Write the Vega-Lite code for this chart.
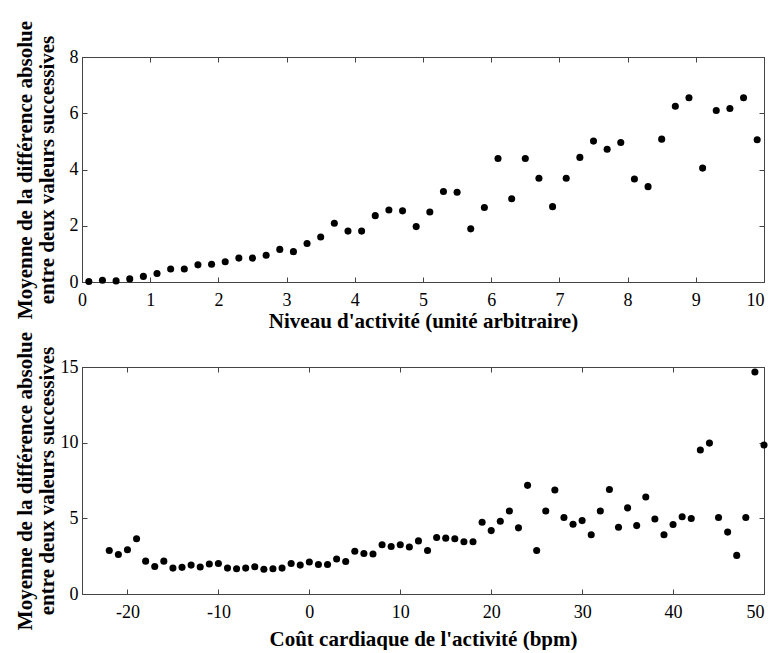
{
  "$schema": "https://vega.github.io/schema/vega-lite/v6.json",
  "padding": {"left": 13, "top": 19, "right": 0, "bottom": 0},
  "bounds": "flush",
  "spacing": 85,
  "config": {
    "font": "'Liberation Serif', 'Times New Roman', 'DejaVu Serif', serif",
    "view": {"stroke": "#444", "strokeWidth": 1},
    "axis": {
      "labelFont": "'Liberation Serif', 'Times New Roman', 'DejaVu Serif', serif",
      "titleFont": "'Liberation Serif', 'Times New Roman', 'DejaVu Serif', serif",
      "labelFontSize": 18,
      "titleFontSize": 21,
      "titleFontWeight": "bold",
      "labelColor": "black",
      "titleColor": "black",
      "domainColor": "#444",
      "tickColor": "#444",
      "grid": false,
      "tickSize": -5,
      "labelFlush": false
    }
  },
  "datasets": {
    "activite": [
      {"x": 0.1, "y": 0.02}, {"x": 0.3, "y": 0.06}, {"x": 0.5, "y": 0.04}, {"x": 0.7, "y": 0.11},
      {"x": 0.9, "y": 0.2}, {"x": 1.1, "y": 0.3}, {"x": 1.3, "y": 0.46}, {"x": 1.5, "y": 0.46},
      {"x": 1.7, "y": 0.61}, {"x": 1.9, "y": 0.63}, {"x": 2.1, "y": 0.72}, {"x": 2.3, "y": 0.85},
      {"x": 2.5, "y": 0.85}, {"x": 2.7, "y": 0.95}, {"x": 2.9, "y": 1.16}, {"x": 3.1, "y": 1.08},
      {"x": 3.3, "y": 1.37}, {"x": 3.5, "y": 1.6}, {"x": 3.7, "y": 2.09}, {"x": 3.9, "y": 1.81},
      {"x": 4.1, "y": 1.81}, {"x": 4.3, "y": 2.36}, {"x": 4.5, "y": 2.56}, {"x": 4.7, "y": 2.53},
      {"x": 4.9, "y": 1.97}, {"x": 5.1, "y": 2.49}, {"x": 5.3, "y": 3.22}, {"x": 5.5, "y": 3.19},
      {"x": 5.7, "y": 1.89}, {"x": 5.9, "y": 2.65}, {"x": 6.1, "y": 4.39}, {"x": 6.3, "y": 2.96},
      {"x": 6.5, "y": 4.39}, {"x": 6.7, "y": 3.69}, {"x": 6.9, "y": 2.68}, {"x": 7.1, "y": 3.69},
      {"x": 7.3, "y": 4.43}, {"x": 7.5, "y": 5.01}, {"x": 7.7, "y": 4.72}, {"x": 7.9, "y": 4.96},
      {"x": 8.1, "y": 3.66}, {"x": 8.3, "y": 3.39}, {"x": 8.5, "y": 5.08}, {"x": 8.7, "y": 6.25},
      {"x": 8.9, "y": 6.55}, {"x": 9.1, "y": 4.05}, {"x": 9.3, "y": 6.1}, {"x": 9.5, "y": 6.17},
      {"x": 9.7, "y": 6.55}, {"x": 9.9, "y": 5.06}
    ],
    "cout": [
      {"x": -22, "y": 2.88}, {"x": -21, "y": 2.61}, {"x": -20, "y": 2.92}, {"x": -19, "y": 3.65},
      {"x": -18, "y": 2.17}, {"x": -17, "y": 1.82}, {"x": -16, "y": 2.17}, {"x": -15, "y": 1.71},
      {"x": -14, "y": 1.76}, {"x": -13, "y": 1.91}, {"x": -12, "y": 1.78}, {"x": -11, "y": 1.98},
      {"x": -10, "y": 2.02}, {"x": -9, "y": 1.71}, {"x": -8, "y": 1.67}, {"x": -7, "y": 1.71},
      {"x": -6, "y": 1.8}, {"x": -5, "y": 1.63}, {"x": -4, "y": 1.67}, {"x": -3, "y": 1.71},
      {"x": -2, "y": 2.02}, {"x": -1, "y": 1.91}, {"x": 0, "y": 2.11}, {"x": 1, "y": 1.95},
      {"x": 2, "y": 1.95}, {"x": 3, "y": 2.31}, {"x": 4, "y": 2.15}, {"x": 5, "y": 2.83},
      {"x": 6, "y": 2.68}, {"x": 7, "y": 2.64}, {"x": 8, "y": 3.25}, {"x": 9, "y": 3.14},
      {"x": 10, "y": 3.25}, {"x": 11, "y": 3.1}, {"x": 12, "y": 3.51}, {"x": 13, "y": 2.88},
      {"x": 14, "y": 3.73}, {"x": 15, "y": 3.69}, {"x": 16, "y": 3.65}, {"x": 17, "y": 3.45},
      {"x": 18, "y": 3.45}, {"x": 19, "y": 4.74}, {"x": 20, "y": 4.19}, {"x": 21, "y": 4.81},
      {"x": 22, "y": 5.49}, {"x": 23, "y": 4.37}, {"x": 24, "y": 7.18}, {"x": 25, "y": 2.88},
      {"x": 26, "y": 5.49}, {"x": 27, "y": 6.87}, {"x": 28, "y": 5.05}, {"x": 29, "y": 4.61},
      {"x": 30, "y": 4.85}, {"x": 31, "y": 3.91}, {"x": 32, "y": 5.49}, {"x": 33, "y": 6.9},
      {"x": 34, "y": 4.41}, {"x": 35, "y": 5.69}, {"x": 36, "y": 4.52}, {"x": 37, "y": 6.41},
      {"x": 38, "y": 4.96}, {"x": 39, "y": 3.91}, {"x": 40, "y": 4.59}, {"x": 41, "y": 5.1},
      {"x": 42, "y": 4.99}, {"x": 43, "y": 9.51}, {"x": 44, "y": 9.97}, {"x": 45, "y": 5.05},
      {"x": 46, "y": 4.09}, {"x": 47, "y": 2.55}, {"x": 48, "y": 5.05}, {"x": 49, "y": 14.67},
      {"x": 50, "y": 9.84}
    ]
  },
  "vconcat": [
    {
      "width": 682,
      "height": 225,
      "data": {"name": "activite"},
      "layer": [
        {
          "mark": {"type": "point", "filled": true, "color": "black", "size": 50, "opacity": 1},
          "encoding": {
            "x": {"field": "x", "type": "quantitative",
              "scale": {"domain": [0, 10], "nice": false, "zero": false},
              "axis": {"orient": "bottom", "values": [0,1,2,3,4,5,6,7,8,9,10], "labelPadding": 14,
                "title": "Niveau d'activité (unité arbitraire)", "titlePadding": 1,
                "labelAlign": {"condition": {"test": "datum.value == 10", "value": "right"}, "value": "center"}}},
            "y": {"field": "y", "type": "quantitative",
              "scale": {"domain": [0, 8], "nice": false},
              "axis": {"orient": "left", "values": [0,2,4,6,8], "labelPadding": 9,
                "title": ["Moyenne de la différence absolue", "entre deux valeurs successives"],
                "titlePadding": 12, "titleLineHeight": 22}}
          }
        },
        {
          "mark": {"type": "point", "filled": true, "color": "black", "size": 50, "opacity": 0},
          "encoding": {
            "x": {"field": "x", "type": "quantitative",
              "axis": {"orient": "top", "values": [0,1,2,3,4,5,6,7,8,9,10], "labels": false, "title": null}},
            "y": {"field": "y", "type": "quantitative",
              "axis": {"orient": "right", "values": [0,2,4,6,8], "labels": false, "title": null}}
          }
        }
      ],
      "resolve": {"axis": {"x": "independent", "y": "independent"}}
    },
    {
      "width": 682,
      "height": 227,
      "data": {"name": "cout"},
      "layer": [
        {
          "mark": {"type": "point", "filled": true, "color": "black", "size": 50, "opacity": 1},
          "encoding": {
            "x": {"field": "x", "type": "quantitative",
              "scale": {"domain": [-25, 50], "nice": false, "zero": false},
              "axis": {"orient": "bottom", "values": [-20,-10,0,10,20,30,40,50], "labelPadding": 14,
                "title": "Coût cardiaque de l'activité (bpm)", "titlePadding": 7,
                "labelExpr": "replace(datum.label, '\u2212', '-')",
                "labelAlign": {"condition": {"test": "datum.value == 50", "value": "right"}, "value": "center"}}},
            "y": {"field": "y", "type": "quantitative",
              "scale": {"domain": [0, 15], "nice": false},
              "axis": {"orient": "left", "values": [0,5,10,15], "labelPadding": 9,
                "title": ["Moyenne de la différence absolue", "entre deux valeurs successives"],
                "titlePadding": 3, "titleLineHeight": 22}}
          }
        },
        {
          "mark": {"type": "point", "filled": true, "color": "black", "size": 50, "opacity": 0},
          "encoding": {
            "x": {"field": "x", "type": "quantitative",
              "axis": {"orient": "top", "values": [-20,-10,0,10,20,30,40,50], "labels": false, "title": null}},
            "y": {"field": "y", "type": "quantitative",
              "axis": {"orient": "right", "values": [0,5,10,15], "labels": false, "title": null}}
          }
        }
      ],
      "resolve": {"axis": {"x": "independent", "y": "independent"}}
    }
  ]
}
